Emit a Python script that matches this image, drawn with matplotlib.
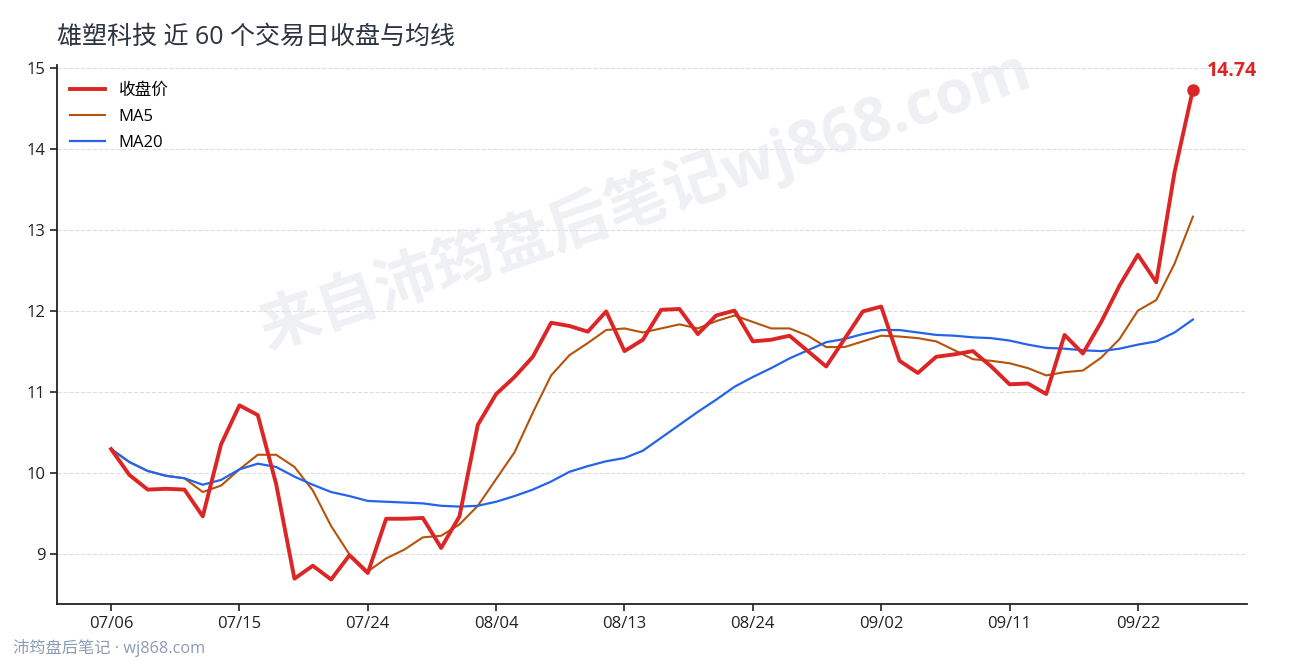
import matplotlib
matplotlib.use('Agg')
import matplotlib.pyplot as plt

plt.rcParams['font.family'] = ['Open Sans', 'Noto Sans CJK SC', 'DejaVu Sans']
plt.rcParams['axes.unicode_minus'] = False

# ── Data ─────────────────────────────────────────────────────
tick_labels = ['07/06', '07/15', '07/24', '08/04', '08/13',
               '08/24', '09/02', '09/11', '09/22']

close = [10.30, 9.98, 9.80, 9.81, 9.80, 9.47, 10.36, 10.84, 10.72, 9.87,
         8.70, 8.86, 8.69, 8.99, 8.77, 9.44, 9.44, 9.45, 9.08, 9.47,
         10.60, 10.98, 11.19, 11.44, 11.86, 11.82, 11.75, 12.00, 11.51, 11.65,
         12.02, 12.03, 11.72, 11.95, 12.01, 11.63, 11.65, 11.70, 11.51, 11.32,
         11.66, 12.00, 12.06, 11.39, 11.24, 11.44, 11.47, 11.51, 11.32, 11.10,
         11.11, 10.98, 11.71, 11.48, 11.87, 12.32, 12.70, 12.36, 13.72, 14.74]

ma5 = [10.30, 10.14, 10.03, 9.97, 9.94, 9.77, 9.85, 10.05, 10.23, 10.23,
       10.08, 9.79, 9.35, 9.00, 8.79, 8.95, 9.06, 9.21, 9.23, 9.37,
       9.60, 9.93, 10.26, 10.75, 11.21, 11.46, 11.61, 11.77, 11.79, 11.74,
       11.79, 11.84, 11.79, 11.88, 11.95, 11.87, 11.79, 11.79, 11.70, 11.56,
       11.56, 11.63, 11.70, 11.69, 11.67, 11.63, 11.52, 11.41, 11.39, 11.36,
       11.30, 11.21, 11.25, 11.27, 11.43, 11.66, 12.01, 12.14, 12.59, 13.17]

ma20 = [10.30, 10.14, 10.03, 9.97, 9.94, 9.86, 9.92, 10.05, 10.12, 10.08,
        9.96, 9.86, 9.77, 9.72, 9.66, 9.65, 9.64, 9.63, 9.60, 9.59,
        9.60, 9.65, 9.72, 9.80, 9.90, 10.02, 10.09, 10.15, 10.19, 10.28,
        10.44, 10.60, 10.76, 10.91, 11.07, 11.19, 11.30, 11.42, 11.52, 11.62,
        11.66, 11.72, 11.77, 11.77, 11.74, 11.71, 11.70, 11.68, 11.67, 11.64,
        11.59, 11.55, 11.54, 11.52, 11.51, 11.54, 11.59, 11.63, 11.74, 11.90]

# ── Plot ──────────────────────────────────────────────────────
RED = '#dc2626'
ORANGE = '#b45309'
BLUE = '#2563eb'

fig = plt.figure(figsize=(12.9, 6.6), dpi=100)
ax = fig.add_axes([57 / 1290, 1 - 604 / 660, (1247 - 57) / 1290, (604 - 65) / 660])

x = list(range(len(close)))
ax.plot(x, close, color=RED, linewidth=2.8, label='收盘价', zorder=4)
ax.plot(x, ma5, color=ORANGE, linewidth=1.5, label='MA5', zorder=3)
ax.plot(x, ma20, color=BLUE, linewidth=1.6, label='MA20', zorder=3)

# last close marker + label
ax.plot(x[-1], close[-1], 'o', color=RED, markersize=8, zorder=5)
ax.annotate(f'{close[-1]:.2f}', (x[-1], close[-1]), xytext=(10, 6),
            textcoords='offset points', color=RED, fontsize=14,
            fontweight='bold', va='bottom', ha='left')

ax.set_xticks(range(0, len(close), 7))
ax.set_xticklabels(tick_labels)
ax.set_yticks(range(9, 16))
ax.tick_params(axis='both', labelsize=12, colors='#222222', length=5, width=1.2)

ax.grid(axis='y', linestyle='--', color='#dddddd', linewidth=0.8)
ax.set_axisbelow(True)
for s in ['top', 'right']:
    ax.spines[s].set_visible(False)
for s in ['left', 'bottom']:
    ax.spines[s].set_linewidth(1.3)
    ax.spines[s].set_color('#222222')

ax.legend(loc='upper left', bbox_to_anchor=(-0.0034, 1.0), frameon=False,
          fontsize=12, handlelength=2.1, labelspacing=0.62, borderaxespad=0.65)

# title
fig.text(57 / 1290, 1 - 37 / 660, '雄塑科技 近 60 个交易日收盘与均线',
         fontsize=18, color='#2d3340', ha='left', va='center')

# watermark
fig.text(0.5, 1 - 200 / 660, '来自沛筠盘后笔记wj868.com', fontsize=44,
         fontweight='bold', color='#e5e7eb', alpha=0.6, rotation=19,
         ha='center', va='center', zorder=0)

# footer
fig.text(13 / 1290, 1 - 648 / 660, '沛筠盘后笔记 · wj868.com', fontsize=11.7,
         color='#8d9bb5', ha='left', va='center')

fig.savefig('out.png', dpi=100)
